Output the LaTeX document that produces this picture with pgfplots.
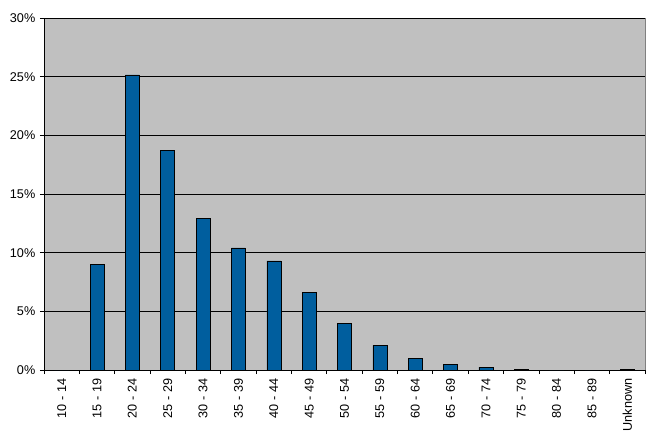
\documentclass[border=0pt]{standalone}
\usepackage{pgfplots}
\pgfplotsset{compat=1.18}
\usepackage{fontspec}
\setmainfont{Liberation Sans}
\definecolor{plotbg}{HTML}{C0C0C0}
\definecolor{barblue}{HTML}{005E9E}
\begin{document}
\begin{tikzpicture}
\begin{axis}[
    scale only axis,
    width=450.75pt, height=264pt,
    xmin=-0.5, xmax=16.5, ymin=0, ymax=30,
    ybar, bar width=10.5pt, bar shift=0pt,
    xtick={0,...,16},
    xticklabels={10 - 14,15 - 19,20 - 24,25 - 29,30 - 34,35 - 39,40 - 44,45 - 49,
        50 - 54,55 - 59,60 - 64,65 - 69,70 - 74,75 - 79,80 - 84,85 - 89,Unknown},
    major x tick style={draw=none},
    minor xtick={-0.5,0.5,...,16.5},
    x tick label style={rotate=90, anchor=east},
    ytick={0,5,...,30},
    yticklabel={\pgfmathprintnumber{\tick}\%},
    /pgf/number format/assume math mode=true,
    tick label style={font=\fontsize{9.5}{11}\selectfont},
    ymajorgrids, grid style={black, line width=0.5pt},
    axis x line*=bottom, axis y line*=left,
    axis line style={black, line width=0.6pt},
    tick align=outside, tick style={black, line width=0.6pt},
    major tick length=3pt, minor tick length=3pt,
    axis background/.style={fill=plotbg, draw=gray},
]
\addplot[fill=barblue, draw=black, line width=0.4pt] coordinates {
    (0,0) (1,9.0) (2,25.15) (3,18.7) (4,12.9) (5,10.4) (6,9.3) (7,6.6)
    (8,4.0) (9,2.1) (10,1.0) (11,0.5) (12,0.25) (13,0.08) (14,0) (15,0)
    (16,0.08)
};
\end{axis}
\path (current axis.south west) +(-33pt,-54.75pt);
\path (current axis.north east) +(3.75pt,13.5pt);
\end{tikzpicture}
\end{document}
